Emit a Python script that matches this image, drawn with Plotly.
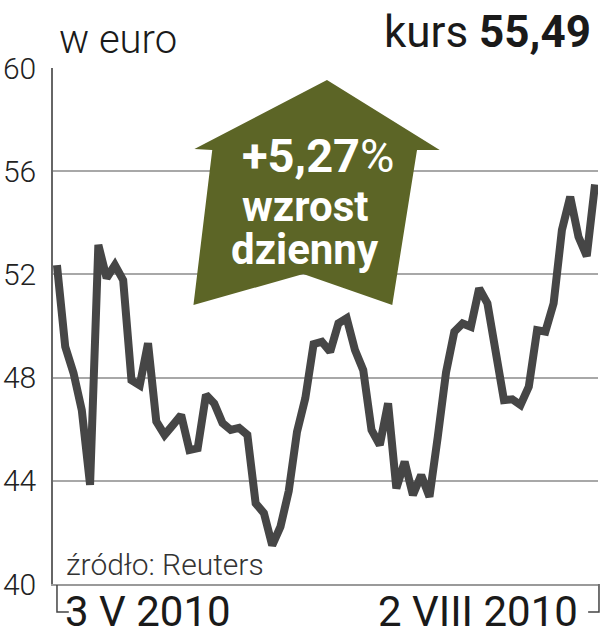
import plotly.graph_objects as go
import pandas as pd

# ---- data ----
dates = [d.strftime("%Y-%m-%d") for d in pd.bdate_range("2010-05-03", "2010-08-02")]
values = [52.36, 49.2, 48.18, 46.74, 43.84, 53.14, 51.86, 52.36, 51.78, 47.9,
          47.7, 49.33, 46.3, 45.78, 46.16, 46.55, 45.19, 45.26, 47.33, 47.0,
          46.24, 45.97, 46.05, 45.78, 43.13, 42.75, 41.5, 42.22, 43.6, 45.9,
          47.2, 49.3, 49.39, 49.0, 50.1, 50.3, 49.07, 48.29, 45.97, 45.39,
          47.0, 43.71, 44.74, 43.45, 44.22, 43.38, 45.7, 48.2, 49.78, 50.1,
          49.97, 51.46, 50.88, 48.81, 47.13, 47.16, 46.94, 47.65, 49.84, 49.78,
          50.88, 53.72, 55.01, 53.46, 52.71, 55.49]
y_ticks = [40, 44, 48, 52, 56, 60]
y_tick_labels = ["40", "44", "48", "52", "56", "60"]
x_labels = ["3 V 2010", "2 VIII 2010"]
unit_label = "w euro"
price_label = "55,49"
change_label = "+5,27%"

x_idx = list(range(len(values)))

W, H = 601, 640
L, R, T, B = 47, 598, 68, 584


def px(x):
    return (x - L) / (R - L)


def py(y):
    return (B - y) / (B - T)


FAM = "Roboto, Inter, sans-serif"
LIGHT = dict(family=FAM, weight=300)
REG = dict(family=FAM, weight=400)
BOLD = dict(family=FAM, weight=700)

fig = go.Figure()
fig.add_trace(go.Scatter(
    x=x_idx, y=values, mode="lines", customdata=dates,
    line=dict(color="#464646", width=8),
    hovertemplate="%{customdata}: %{y:.2f}<extra></extra>",
))

step = (595 - 51) / 65.0
x0 = 0 - (51 - L) / step
x1 = 65 + (R - 595) / step

fig.update_layout(
    width=W, height=H,
    margin=dict(l=L, r=W - R, t=T, b=H - B),
    paper_bgcolor="white", plot_bgcolor="white",
    showlegend=False,
    xaxis=dict(range=[x0, x1], showgrid=False, zeroline=False, showticklabels=False,
               showline=True, linecolor="#9a9a9a", linewidth=1.5, ticks=""),
    yaxis=dict(range=[40, 60], tickvals=y_ticks, ticktext=y_tick_labels,
               showgrid=True, gridcolor="#a8a8a8", gridwidth=1.5, zeroline=False,
               showline=True, linecolor="#666666", linewidth=1.5, ticks="",
               ticklabelstandoff=9,
               tickfont=dict(size=30, color="#222222", **LIGHT)),
)

# arrow
arrow = [(324, 80), (438, 150), (415, 150), (390, 305), (300, 274),
         (189, 305), (208, 150), (190, 149)]
path = "M " + " L ".join(f"{px(a):.4f},{py(b):.4f}" for a, b in arrow) + " Z"
fig.add_shape(type="path", path=path, xref="paper", yref="paper",
              fillcolor="#5c6526", line=dict(width=0), layer="above")

# brackets
for pth in [[(51, 585), (51, 612), (63, 612)], [(599, 584), (599, 612), (588, 612)]]:
    p = "M " + " L ".join(f"{px(a):.4f},{py(b):.4f}" for a, b in pth)
    fig.add_shape(type="path", path=p, xref="paper", yref="paper",
                  line=dict(color="#444444", width=1.5), layer="above")


def ann(text, x, y, size, font, xanchor="center", color="#1a1a1a"):
    fig.add_annotation(text=text, x=px(x), y=py(y), xref="paper", yref="paper",
                       xanchor=xanchor, yanchor="middle", showarrow=False,
                       font=dict(size=size, color=color, **font))


ann(unit_label, 51, 40, 40, LIGHT, xanchor="left")
ann("kurs <b>" + price_label + "</b>", 593, 32, 44, REG, xanchor="right")
ann("<b>" + change_label[:-1] + "</b>" + change_label[-1], 315, 155, 47, REG, color="white")
ann("wzrost", 302, 206, 42, BOLD, color="white")
ann("dzienny", 302, 250, 42, BOLD, color="white")
ann("źródło: Reuters", 58, 564, 30, LIGHT, xanchor="left", color="#333333")
ann(x_labels[0], 57, 611, 42, REG, xanchor="left")
ann(x_labels[1], 580, 611, 42, REG, xanchor="right")

fig.write_html("out.html", config={"displayModeBar": False},
               post_script="document.body.style.margin='0';document.body.style.padding='0';")
